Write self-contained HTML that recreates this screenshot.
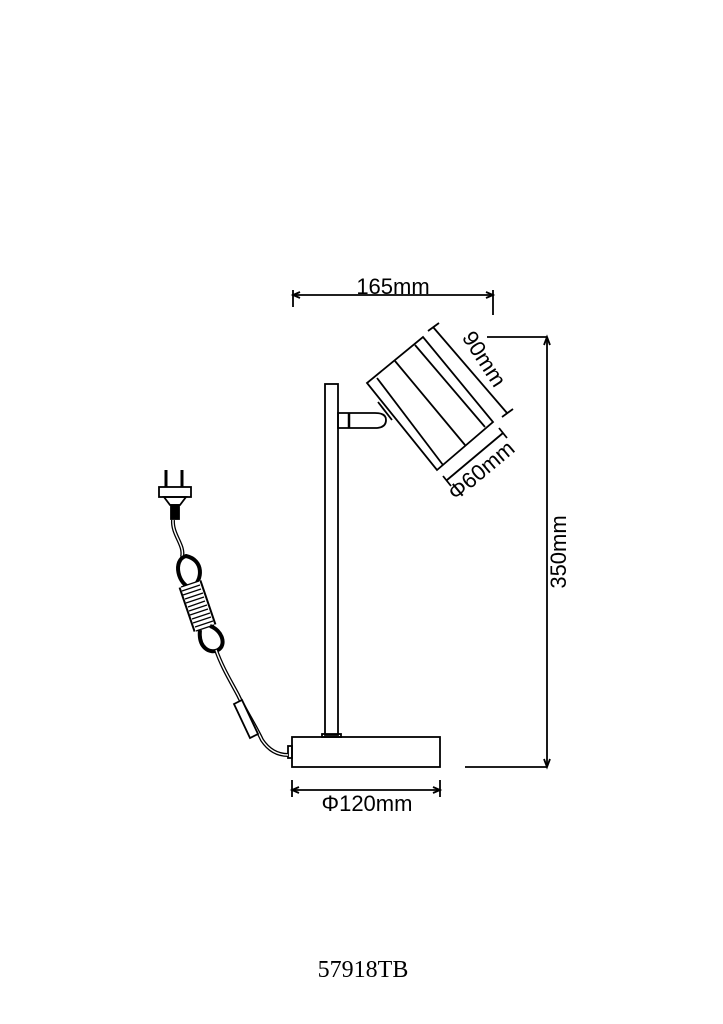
<!DOCTYPE html>
<html><head><meta charset="utf-8"><style>
html,body{margin:0;padding:0;background:#fff}
svg{display:block}
</style></head><body>
<svg width="723" height="1024" viewBox="0 0 723 1024" xmlns="http://www.w3.org/2000/svg">
<g stroke="#000" fill="none" stroke-width="1.8">
<!-- 165 dimension -->
<line x1="292" y1="295" x2="493" y2="295"/>
<line x1="293" y1="290" x2="293" y2="307"/>
<line x1="493" y1="290" x2="493" y2="315"/>
<path d="M300 292 L293 295 L300 298" />
<path d="M486 292 L493 295 L486 298" />
<!-- pole -->
<rect x="325" y="384" width="13" height="351"/>
<rect x="322" y="734" width="19" height="3"/>
<!-- arm -->
<path d="M338 413 L375 413 Q386 413 386 420 Q386 428 375 428 L338 428 Z"/>
<line x1="349" y1="413" x2="349" y2="428" stroke-width="2.5"/>
<!-- lamp head -->
<polygon points="367,383 423,337 493,422 437,470"/>
<line x1="377" y1="378" x2="443" y2="465"/>
<line x1="395" y1="361" x2="465" y2="445"/>
<line x1="415" y1="345" x2="485" y2="427"/>
<line x1="378" y1="402" x2="392" y2="420"/>
<!-- 90mm dim -->
<line x1="433" y1="327" x2="507" y2="413"/>
<line x1="428" y1="331" x2="439" y2="323"/>
<line x1="502" y1="417" x2="513" y2="409"/>
<!-- 60mm dim -->
<line x1="447" y1="480" x2="503" y2="433"/>
<line x1="443" y1="476" x2="451" y2="486"/>
<line x1="499" y1="428" x2="507" y2="438"/>
<!-- 350 dim -->
<line x1="487" y1="337" x2="547" y2="337"/>
<line x1="465" y1="767" x2="547" y2="767"/>
<line x1="547" y1="337" x2="547" y2="767"/>
<path d="M544 345 L547 337 L550 345"/>
<path d="M544 759 L547 767 L550 759"/>
<!-- base -->
<rect x="292" y="737" width="148" height="30"/>
<rect x="288" y="746" width="4" height="12"/>
<!-- 120 dim -->
<line x1="292" y1="790" x2="440" y2="790"/>
<line x1="292" y1="780" x2="292" y2="797"/>
<line x1="440" y1="780" x2="440" y2="797"/>
<path d="M299 787 L292 790 L299 793"/>
<path d="M433 787 L440 790 L433 793"/>
<!-- plug -->
<line x1="166" y1="470" x2="166" y2="487" stroke-width="3"/>
<line x1="182" y1="470" x2="182" y2="487" stroke-width="3"/>
<rect x="159" y="487" width="32" height="10"/>
<path d="M164 497 L186 497 L180 505 L170 505 Z"/>
<rect x="171" y="505" width="8" height="14" fill="#000"/>
<!-- cord -->
<path d="M173 520 C172 535 185 545 182 557" stroke-width="4"/>
<path d="M173 520 C172 535 185 545 182 557" stroke="#fff" stroke-width="1.4"/>
<path d="M186 556 C172 560 178 586 192 588 C203 580 204 560 186 556 Z" stroke-width="4"/>
<path d="M190 584 L205 628" stroke-width="24"/>
<path d="M190 584 L205 628" stroke="#fff" stroke-width="20"/>
<g stroke-width="1.2">
<line x1="181" y1="587" x2="199" y2="581"/><line x1="182" y1="591" x2="200" y2="585"/>
<line x1="183" y1="595" x2="201" y2="589"/><line x1="185" y1="599" x2="203" y2="593"/>
<line x1="186" y1="603" x2="204" y2="597"/><line x1="188" y1="607" x2="205" y2="601"/>
<line x1="189" y1="611" x2="207" y2="605"/><line x1="190" y1="615" x2="208" y2="609"/>
<line x1="192" y1="619" x2="210" y2="613"/><line x1="193" y1="623" x2="211" y2="617"/>
<line x1="195" y1="627" x2="213" y2="621"/><line x1="196" y1="631" x2="214" y2="625"/>
</g>
<path d="M200 630 C198 648 210 654 218 650 C227 645 222 630 210 626" stroke-width="4"/>
<path d="M216 650 C222 667 230 680 238 695 C245 710 255 725 262 740 C270 752 280 755 288 755" stroke-width="4"/>
<path d="M216 650 C222 667 230 680 238 695 C245 710 255 725 262 740 C270 752 280 755 288 755" stroke="#fff" stroke-width="1.4"/>
<polygon points="234,704 242,700 258,734 250,738" fill="#fff" stroke-width="1.8"/>
</g>
<g font-family="'Liberation Sans',sans-serif" font-size="22" fill="#000">
<text x="393" y="294" text-anchor="middle">165mm</text>
<text x="367" y="811" text-anchor="middle">Φ120mm</text>
<text transform="translate(566,552) rotate(-90)" text-anchor="middle">350mm</text>
<text transform="translate(478,363) rotate(57)" text-anchor="middle">90mm</text>
<text transform="translate(486,476) rotate(-40)" text-anchor="middle">Φ60mm</text>
</g>
<text x="363" y="977" text-anchor="middle" font-family="'Liberation Serif',serif" font-size="24" fill="#000">57918TB</text>
</svg>
</body></html>
